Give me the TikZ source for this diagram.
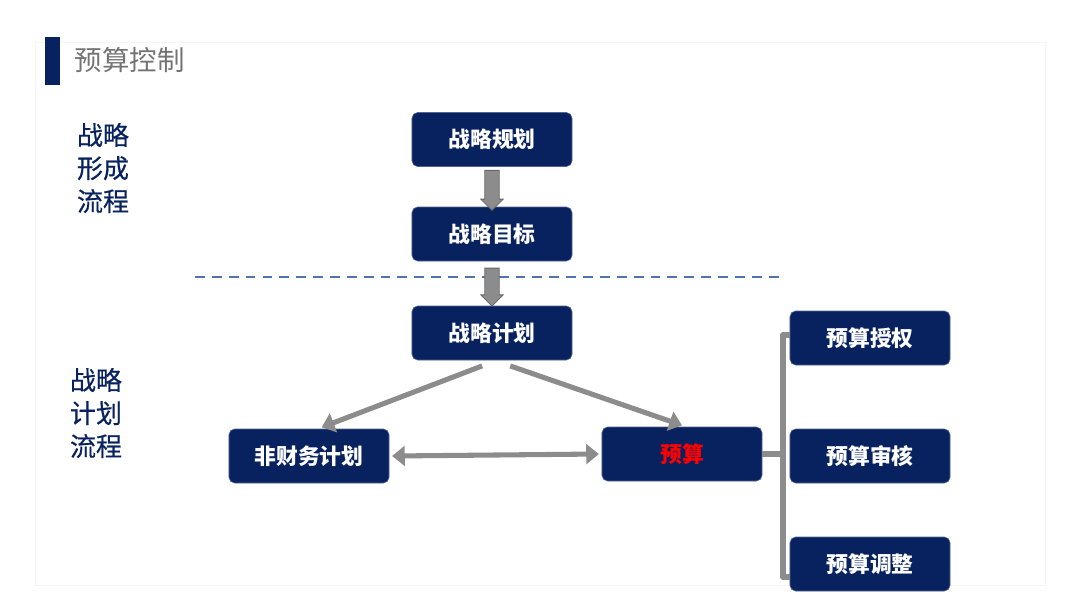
\documentclass[tikz,border=0pt]{standalone}
\usepackage{fontspec}
\setmainfont{Noto Sans CJK SC}
\newfontfamily\cjk{Noto Sans CJK SC}
\newfontfamily\cjkmed[FakeBold=0.5]{Noto Sans CJK SC}
\usetikzlibrary{positioning,calc,arrows.meta,shapes.arrows}
\tikzset{>=stealth}
\definecolor{navy}{RGB}{8,34,96}
\definecolor{bargray}{RGB}{140,140,140}
\definecolor{dashblue}{RGB}{80,115,170}
\tikzset{
  box/.style={draw=navy!70,fill=navy,rounded corners=4pt,minimum width=4cm,minimum height=1.35cm,
    text=white,font=\cjk\bfseries\fontsize{15.5}{18}\selectfont},
  blockarrow/.style={single arrow,draw=black!60,fill=black!45,line width=0.6pt,
    inner sep=0.17cm,single arrow head extend=0.1cm,single arrow head indent=0pt,
    shape border rotate=270},
  flow/.style={bargray,line width=3.6pt,-{Triangle[length=9pt,width=14pt]}},
  label/.style={text=navy,align=left,font=\cjkmed\fontsize{18.5}{23.5}\selectfont}
}

\begin{document}
\begin{tikzpicture}[x=0.025cm,y=-0.025cm]
\useasboundingbox (0,0) rectangle (1080,608);
% Slide panel and title
\draw[black!4] (35,42) rectangle (1045,585);
\fill[navy] (45,37) rectangle (60,85);
\node[anchor=west,text=black!55,font=\cjk\fontsize{19.5}{22}\selectfont] (title) at (70,60) {预算控制};
% Side labels
\node[label,anchor=north west] (form) at (72,118) {战略\\形成\\流程};
\node[label,anchor=north west] (plan) at (65,363) {战略\\计划\\流程};
% Strategy boxes
\node[box] (sp) at (492,139.5) {战略规划};
\node[box] (sg) at (492,234) {战略目标};
\node[box] (sc) at (492,333) {战略计划};
\node[box] (nf) at (309,456) {非财务计划};
\node[box,text=red] (bd) at (682,454) {预算};
% Budget control boxes
\node[box] (ba) at (870,338) {预算授权};
\node[box] (br) at (870,456) {预算审核};
\node[box] (bj) at (870,564) {预算调整};
% Dashed separator
\draw[dashblue,line width=1.2pt,dash pattern=on 7pt off 5pt] (195,277) coordinate (dl) -- (785,277) coordinate (dr);
% Block arrows
\node[blockarrow,minimum height=1cm] (a1) at ($(sp.south)!0.5!(sg.north)$) {};
\node[blockarrow,minimum height=0.95cm] (a2) at ($(sg.south)!0.5!(sc.north)$) {};
% Flow arrows
\draw[flow] ([xshift=-7pt,yshift=-4pt]sc.south) -- ([xshift=9pt,yshift=1pt]nf.north);
\draw[flow] ([xshift=13pt,yshift=-4pt]sc.south) -- ([xshift=0pt,yshift=1pt]bd.north);
\draw[flow,{Triangle[length=9pt,width=14pt]}-{Triangle[length=9pt,width=14pt]}] ([xshift=2pt]nf.east) -- ([xshift=-2pt]bd.west);
% Bracket to control boxes
\coordinate (bt) at (783,335);
\coordinate (bb) at (783,577);
\draw[bargray,line width=3.6pt,line join=round] (ba.west |- bt) -- (bt) -- (bb) -- (bj.west |- bb);
\draw[bargray,line width=3.6pt] (bd.east) -- (bd.east -| bt);
\end{tikzpicture}
\end{document}
